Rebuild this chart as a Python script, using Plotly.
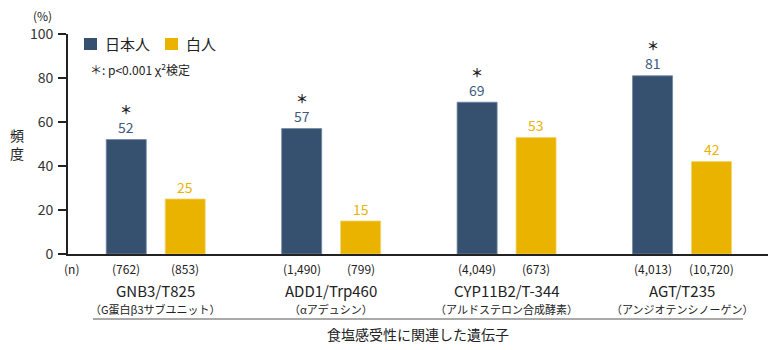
import plotly.graph_objects as go

# Genes associated with salt sensitivity
genes = ["GNB3/T825", "ADD1/Trp460", "CYP11B2/T-344", "AGT/T235"]
gene_notes = ["（G蛋白β3サブユニット）", "（αアデュシン）", "（アルドステロン合成酵素）", "（アンジオテンシノーゲン）"]

# Frequency (%) of each allele
japanese = [52, 57, 69, 81]
caucasian = [25, 15, 53, 42]

# Number of subjects
n_japanese = ["(762)", "(1,490)", "(4,049)", "(4,013)"]
n_caucasian = ["(853)", "(799)", "(673)", "(10,720)"]

# Significant difference marker (p<0.001, chi-square test)
significant = [True, True, True, True]

series_names = ["日本人", "白人"]
y_ticks = [0, 20, 40, 60, 80, 100]

BLUE = "#36506f"
BLUE_TEXT = "#3e5b80"
YELLOW = "#e9b300"
FONT = "Noto Sans CJK JP"

HALF_SEP = 0.168   # half distance between paired bar centers (category units)
BAR_W = 0.228

idx = list(range(len(genes)))
x_jp = [i - HALF_SEP for i in idx]
x_wh = [i + HALF_SEP for i in idx]

fig = go.Figure()
fig.add_bar(x=x_jp, y=japanese, width=BAR_W, name=series_names[0],
            marker=dict(color=BLUE, line=dict(color="#6f86a3", width=0.8)),
            showlegend=False)
fig.add_bar(x=x_wh, y=caucasian, width=BAR_W, name=series_names[1],
            marker=dict(color=YELLOW, line=dict(color="#f3d469", width=0.8)),
            showlegend=False)

ann = []
# value labels and significance markers
for x, v, sig in zip(x_jp, japanese, significant):
    ann.append(dict(x=x, y=v, text=str(v), showarrow=False, yanchor="middle", yshift=12.5,
                    font=dict(size=14, color=BLUE_TEXT, family=FONT)))
    if sig:
        ann.append(dict(x=x, y=v, text="<b>＊</b>", showarrow=False, yanchor="middle", yshift=30,
                        font=dict(size=12, color="#222", family=FONT)))
for x, v in zip(x_wh, caucasian):
    ann.append(dict(x=x, y=v, text=str(v), showarrow=False, yanchor="middle", yshift=12.5,
                    font=dict(size=14, color=YELLOW, family=FONT)))

# subject counts under each bar
for x, n in zip(x_jp + x_wh, n_japanese + n_caucasian):
    ann.append(dict(x=x, y=0, text=n, showarrow=False, yanchor="middle", yshift=-14,
                    font=dict(size=12, color="#222", family=FONT)))
ann.append(dict(x=0, xref="paper", xanchor="left", xshift=-6, y=0, text="(n)", showarrow=False,
                yanchor="middle", yshift=-14, font=dict(size=12, color="#222", family=FONT)))

# gene names and descriptions
for i, g, note in zip(idx, genes, gene_notes):
    ann.append(dict(x=i, y=0, text=g, showarrow=False, yanchor="middle", yshift=-36,
                    font=dict(size=15, color="#222", family=FONT)))
    ann.append(dict(x=i, y=0, text=note, showarrow=False, yanchor="middle", yshift=-55,
                    font=dict(size=11, color="#222", family=FONT)))

# axis group title
ann.append(dict(x=0.5, xref="x domain", y=0, text="食塩感受性に関連した遺伝子",
                showarrow=False, yanchor="middle", yshift=-80,
                font=dict(size=14, color="#222", family=FONT)))
# y-axis unit and title
ann.append(dict(x=0, xref="paper", xanchor="center", xshift=-26, y=100, text="(%)",
                showarrow=False, yanchor="middle", yshift=19,
                font=dict(size=12, color="#222", family=FONT)))
ann.append(dict(x=0, xref="paper", xanchor="center", xshift=-51, y=50, text="頻<br>度",
                showarrow=False, yanchor="middle",
                font=dict(size=14, color="#222", family=FONT)))

# legend
legend_items = [(series_names[0], BLUE, 84), (series_names[1], YELLOW, 165)]
shapes = []
for name, col, px in legend_items:
    x0 = (px - 68) / 700
    shapes.append(dict(type="rect", xref="paper", yref="paper",
                       x0=x0, x1=x0 + 13 / 700, y0=(254 - 50) / 220, y1=(254 - 38) / 220,
                       fillcolor=col, line=dict(width=0)))
    ann.append(dict(x=x0 + 19 / 700, xref="paper", xanchor="left", y=(254 - 44) / 220,
                    yref="paper", yanchor="middle", text=name, showarrow=False,
                    font=dict(size=15, color="#222", family=FONT)))
ann.append(dict(x=(88 - 68) / 700, xref="paper", xanchor="left", y=(254 - 69) / 220,
                yref="paper", yanchor="middle", text="＊: p<0.001 χ<sup>2</sup>検定",
                showarrow=False, font=dict(size=12, color="#222", family=FONT)))

# separator line above the axis group title
shapes.append(dict(type="line", xref="paper", yref="paper",
                   x0=(93 - 68) / 700, x1=(743 - 68) / 700,
                   y0=(254 - 319) / 220, y1=(254 - 319) / 220,
                   line=dict(color="#555", width=1)))

fig.update_layout(
    width=778, height=350,
    margin=dict(l=68, r=10, t=34, b=96),
    plot_bgcolor="white", paper_bgcolor="white",
    barmode="overlay",
    font=dict(family=FONT, color="#222"),
    annotations=ann, shapes=shapes,
    xaxis=dict(range=[-0.5, 3.49], showticklabels=False, ticks="", showgrid=False,
               zeroline=False, showline=True, linecolor="#222", linewidth=2, fixedrange=True),
    yaxis=dict(range=[0, 100], tickvals=y_ticks, ticks="outside", ticklen=8, tickwidth=1.5,
               tickcolor="#222", showgrid=False, zeroline=False, showline=True,
               linecolor="#222", linewidth=2, tickfont=dict(size=14, color="#333", family=FONT),
               ticklabelstandoff=2),
)

fig.write_html("out.html")
